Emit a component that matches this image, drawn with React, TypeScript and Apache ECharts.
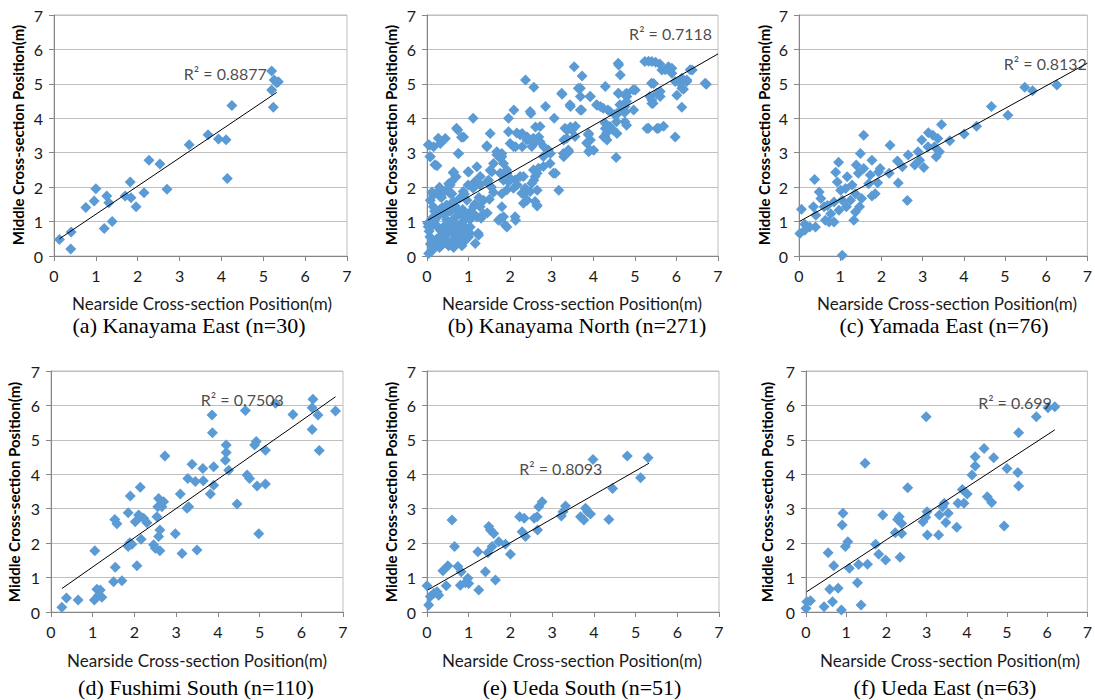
import React, { useEffect, useRef } from "react";
import * as echarts from "echarts";

// ---------- DATA ----------
const kanayamaEast: number[][] = [
  [0.13, 0.48], [0.41, 0.7], [0.4, 0.2], [0.76, 1.41], [0.96, 1.6], [1.0, 1.95], [1.2, 0.8],
  [1.26, 1.74], [1.31, 1.55], [1.39, 1.0], [1.7, 1.74], [1.82, 2.15], [1.84, 1.69], [1.96, 1.43],
  [2.15, 1.84], [2.27, 2.78], [2.53, 2.67], [2.7, 1.94], [3.23, 3.23], [3.68, 3.52], [3.93, 3.4],
  [4.11, 3.38], [4.14, 2.25], [4.25, 4.37], [5.2, 5.37], [5.26, 5.11], [5.32, 5.03], [5.2, 4.82],
  [5.24, 4.32], [5.36, 5.06],
];

const kanayamaNorth: number[][] = [
  [6.72, 4.99], [6.38, 5.4], [6.25, 5.11], [6.17, 4.84], [6.13, 4.32], [6.01, 4.67], [6.09, 5.01],
  [5.97, 3.46], [5.89, 5.45], [5.81, 5.5], [5.65, 5.4], [5.89, 5.31], [5.61, 4.63], [5.69, 3.77],
  [5.53, 3.7], [5.29, 3.7], [5.24, 5.65], [5.33, 5.66], [5.41, 5.65], [5.5, 5.63], [5.6, 5.58],
  [5.45, 5.01], [5.41, 4.53], [5.41, 4.43], [5.53, 4.72], [5.01, 4.82], [4.97, 4.24], [4.81, 4.63],
  [4.77, 4.19], [4.8, 3.8], [4.57, 4.14], [4.61, 4.72], [4.61, 5.55], [4.65, 5.26], [4.57, 3.56],
  [4.55, 2.86], [4.29, 4.92], [4.35, 4.24], [4.25, 3.46], [4.33, 3.37], [4.29, 3.7], [4.17, 4.34],
  [4.09, 4.38], [3.93, 4.63], [3.89, 3.56], [3.93, 3.37], [4.01, 3.07], [3.89, 3.03], [3.69, 4.63],
  [3.69, 4.87], [3.73, 5.23], [3.54, 5.5], [3.69, 4.24], [3.57, 3.77], [3.45, 4.34], [3.45, 3.75],
  [3.37, 3.66], [3.41, 3.03], [3.29, 2.88], [3.29, 3.37], [3.25, 4.7], [3.06, 4.0], [3.09, 2.4],
  [3.17, 1.91], [2.97, 2.98], [2.85, 4.34], [2.81, 3.17], [2.69, 3.46], [2.61, 3.75], [2.57, 4.9],
  [2.37, 5.11], [2.5, 4.14], [2.5, 3.37], [2.41, 3.46], [2.29, 3.56], [2.09, 4.24], [1.96, 4.0],
  [1.96, 3.61], [2.0, 3.27], [2.13, 3.17], [2.29, 3.17], [2.57, 3.27], [2.65, 2.4], [2.65, 1.91],
  [2.65, 1.45], [2.57, 2.2], [2.33, 1.81], [2.41, 1.62], [2.17, 2.06], [2.13, 1.04], [1.92, 0.84],
  [1.8, 1.81], [1.8, 1.43], [1.72, 1.04], [1.84, 2.2], [1.92, 2.4], [1.8, 2.98], [1.68, 3.03],
  [1.52, 3.56], [1.44, 3.17], [1.6, 2.69], [1.52, 2.49], [1.48, 2.2], [1.28, 2.06], [1.2, 2.59],
  [1.11, 4.0], [1.0, 2.44], [0.88, 3.46], [0.74, 3.66], [0.76, 2.98], [0.64, 2.44], [0.44, 3.41],
  [0.32, 3.27], [0.16, 3.17], [0.06, 3.22], [0.08, 2.88], [0.24, 2.62], [0.32, 1.72], [0.12, 1.86],
  [0.08, 1.62], [1.24, 0.6], [1.16, 0.36], [0.88, 0.65], [0.8, 0.46], [0.04, 0.07], [1.04, 0.84],
  [1.36, 1.23], [1.2, 1.13], [0.88, 1.13], [0.96, 1.62], [1.12, 1.43], [1.36, 1.62], [0.52, 2.1],
  [0.6, 1.81], [0.56, 2.06],
  [3.24, 4.73], [3.64, 4.87], [3.92, 4.63], [4.6, 4.73], [4.8, 4.73], [3.44, 4.39], [3.72, 4.24],
  [4.08, 4.39], [4.24, 4.29], [4.4, 4.2], [4.6, 4.15], [4.76, 4.34], [2.48, 4.2], [2.24, 3.52],
  [2.4, 3.37], [2.56, 3.42], [2.72, 3.32], [2.52, 3.18], [2.08, 3.18], [3.32, 3.71], [3.48, 3.66],
  [3.56, 3.47], [3.36, 3.42], [3.88, 3.52], [3.84, 3.28], [3.92, 3.08], [4.28, 3.47], [4.4, 3.76],
  [4.48, 3.66], [4.76, 3.9], [4.76, 4.2], [4.56, 3.9], [3.28, 2.98], [3.4, 3.08], [2.92, 3.08],
  [2.8, 2.89], [2.96, 2.69], [3.04, 2.4], [2.8, 2.6], [1.8, 2.89], [1.76, 2.4], [1.92, 2.5],
  [2.56, 2.5], [2.6, 2.31], [2.52, 2.11], [2.32, 2.31], [2.12, 2.21], [1.96, 2.16], [1.92, 1.92],
  [2.08, 1.97], [2.28, 1.82], [2.48, 1.87], [2.6, 1.58], [2.4, 1.63], [2.32, 1.53], [2.64, 1.48],
  [1.84, 1.14], [2.12, 1.14],
  [5.73, 5.41], [6.33, 5.41], [6.69, 5.02], [4.6, 5.6], [5.4, 5.02], [5.36, 4.63], [5.44, 4.44],
  [5.61, 4.78], [5.97, 5.07], [6.13, 5.16], [6.25, 5.07], [6.13, 4.87], [4.96, 4.83], [4.76, 4.68],
  [4.8, 4.49], [4.64, 4.39], [5.33, 3.71], [5.57, 3.71], [4.52, 4.1], [4.72, 4.2], [4.28, 3.86],
  [4.32, 3.57],
  [0.03, 3.23], [0.27, 3.42], [0.07, 2.89], [0.19, 2.65], [0.71, 3.71], [0.83, 3.45], [0.75, 2.98],
  [0.63, 2.42], [0.99, 2.45], [1.15, 2.16], [0.99, 2.06], [1.44, 3.2], [1.68, 2.94], [1.84, 2.69],
  [2.16, 3.57], [2.72, 3.76], [2.68, 2.55], [2.24, 2.31], [2.0, 2.26], [2.36, 1.97], [1.76, 2.84],
  [1.56, 2.45], [1.44, 2.16], [1.28, 2.31], [1.11, 1.97], [0.87, 1.87], [0.59, 2.16], [0.55, 1.82],
  [0.39, 1.87], [0.15, 1.77], [1.76, 1.09], [1.88, 0.9], [1.28, 1.43], [1.11, 1.24], [1.03, 1.05],
  [0.83, 1.19], [0.71, 1.34], [0.91, 0.85], [1.03, 0.66], [1.23, 0.66], [0.83, 0.51], [0.63, 0.66],
  [0.51, 0.32], [0.31, 0.47], [0.15, 0.27], [0.03, 0.85], [0.07, 0.56], [0.19, 1.05], [0.31, 0.76],
  [0.47, 1.05], [0.47, 1.48], [0.31, 1.34], [0.15, 1.43], [0.63, 1.58], [0.79, 1.68],
  [0.02, 0.95], [0.05, 0.72], [0.1, 0.85], [0.12, 1.1], [0.14, 0.4], [0.18, 1.3], [0.2, 0.3],
  [0.22, 0.9], [0.24, 0.5], [0.26, 1.15], [0.3, 0.25], [0.34, 0.6], [0.36, 1.4], [0.38, 0.35],
  [0.4, 0.85], [0.42, 1.2], [0.44, 0.45], [0.46, 0.7], [0.5, 0.95], [0.52, 0.3], [0.56, 1.3],
  [0.58, 0.8], [0.6, 0.45], [0.62, 1.05], [0.64, 0.25], [0.66, 0.7], [0.68, 1.45], [0.7, 0.55],
  [0.72, 0.9], [0.74, 1.2], [0.76, 0.4], [0.78, 0.75], [0.82, 0.95], [0.84, 0.3], [0.86, 1.35],
  [0.9, 1.8], [0.92, 0.45], [0.94, 1.1], [0.96, 0.7], [1.0, 0.55], [1.02, 1.25], [0.25, 1.85],
  [0.3, 2.0], [0.35, 1.7], [0.45, 1.9], [0.7, 2.3], [0.08, 0.35], [0.12, 0.15], [0.28, 0.45],
  [0.4, 0.55], [0.5, 0.65], [1.15, 1.5], [1.25, 1.7], [1.3, 1.1], [1.45, 1.25], [1.5, 1.65],
  [1.55, 2.0], [1.6, 1.85],
];

const yamadaEast: number[][] = [
  [6.26, 4.97], [5.67, 4.8], [5.48, 4.9], [5.07, 4.09], [4.67, 4.34], [4.31, 3.77], [4.01, 3.54],
  [3.66, 3.35], [3.46, 3.82], [3.41, 3.03], [3.37, 3.41], [3.29, 3.17], [3.33, 2.88], [3.25, 3.51],
  [3.14, 3.58], [3.13, 3.17], [2.98, 3.37], [3.03, 2.57], [2.93, 2.78], [2.89, 3.03], [2.81, 2.64],
  [2.63, 1.61], [2.65, 2.93], [2.51, 2.59], [2.39, 2.76], [2.41, 2.12], [2.21, 3.22], [2.19, 2.4],
  [1.93, 2.44], [1.91, 2.13], [1.77, 2.78], [1.85, 1.81], [1.77, 1.74], [1.69, 2.1], [1.57, 3.51],
  [1.57, 2.54], [1.52, 1.67], [1.49, 2.98], [1.39, 2.64], [1.44, 2.4], [1.47, 1.43], [1.33, 1.04],
  [1.37, 1.28], [1.17, 2.3], [1.15, 1.43], [1.05, 0.02], [0.96, 2.72], [0.89, 2.43], [0.93, 2.15],
  [1.01, 1.91], [1.05, 1.62], [0.97, 1.33], [0.85, 0.99], [0.77, 1.23], [0.61, 1.43], [0.49, 1.86],
  [0.53, 1.67], [0.64, 1.04], [0.38, 2.22], [0.35, 1.43], [0.4, 0.84], [0.26, 0.84], [0.14, 0.92],
  [0.06, 1.36], [0.02, 0.65], [0.14, 0.75], [0.73, 0.99], [0.41, 1.18], [1.13, 1.96], [1.29, 2.06],
  [1.37, 1.81], [1.25, 1.62], [0.85, 1.57], [0.69, 1.47], [1.73, 2.35], [1.97, 2.54],
];

const fushimiSouth: number[][] = [
  [0.26, 0.14], [0.37, 0.41], [0.65, 0.35], [1.05, 1.78], [1.04, 0.35], [1.1, 0.66], [1.14, 0.49],
  [1.22, 0.43], [1.18, 0.64], [1.5, 0.88], [1.54, 1.3], [1.53, 2.69], [1.58, 2.56], [1.7, 0.91],
  [1.85, 2.88], [1.9, 3.37], [1.85, 1.9], [1.89, 2.01], [1.94, 1.97], [2.02, 2.62], [2.06, 1.34],
  [2.1, 2.82], [2.14, 3.62], [2.16, 2.11], [2.14, 2.77], [2.22, 2.72], [2.3, 2.59], [2.46, 1.95],
  [2.5, 1.85], [2.54, 2.77], [2.56, 3.06], [2.58, 3.3], [2.61, 2.38], [2.58, 2.19], [2.61, 1.78],
  [2.66, 3.06], [2.7, 3.2], [2.73, 4.53], [2.98, 2.27], [3.1, 3.43], [3.14, 1.7], [3.26, 3.01],
  [3.3, 3.06], [3.28, 3.88], [3.38, 4.29], [3.46, 3.79], [3.5, 1.8], [3.64, 4.17], [3.65, 3.81],
  [3.82, 3.43], [3.86, 5.72], [3.87, 5.21], [3.9, 4.22], [3.9, 3.68], [4.18, 4.41], [4.2, 4.63],
  [4.2, 4.85], [4.26, 4.12], [4.46, 3.14], [4.66, 5.85], [4.7, 3.98], [4.76, 3.88], [4.88, 4.85],
  [4.92, 4.95], [4.98, 2.27], [4.94, 3.66], [5.14, 3.72], [5.14, 4.7], [5.38, 6.06], [5.8, 5.74],
  [6.26, 5.3], [6.28, 6.18], [6.26, 5.93], [6.4, 5.72], [6.43, 4.69], [6.82, 5.84],
];

const uedaSouth: number[][] = [
  [0.0, 0.76], [0.04, 0.2], [0.08, 0.45], [0.16, 0.54], [0.24, 0.59], [0.28, 0.49], [0.38, 1.2],
  [0.46, 0.76], [0.5, 1.34], [0.6, 2.67], [0.66, 1.9], [0.74, 1.32], [0.82, 1.17], [0.8, 0.78],
  [0.92, 0.85], [0.98, 0.98], [1.0, 0.83], [1.22, 1.75], [1.24, 0.64], [1.4, 1.17], [1.46, 1.72],
  [1.48, 2.48], [1.52, 2.38], [1.56, 1.9], [1.6, 2.28], [1.64, 0.93], [1.72, 2.04], [1.88, 1.97],
  [2.0, 1.68], [2.22, 2.77], [2.28, 2.33], [2.33, 2.72], [2.36, 2.19], [2.57, 2.72], [2.64, 2.77],
  [2.65, 2.38], [2.68, 3.06], [2.76, 3.2], [3.22, 2.79], [3.32, 3.08], [3.26, 2.91], [3.68, 2.77],
  [3.76, 2.67], [3.8, 3.01], [3.92, 2.85], [3.85, 2.91], [3.98, 4.43], [4.36, 2.69], [4.45, 3.59],
  [4.8, 4.53], [5.12, 3.9], [5.3, 4.48],
];

const uedaEast: number[][] = [
  [0.0, 0.11], [0.02, 0.3], [0.11, 0.33], [0.45, 0.15], [0.55, 1.72], [0.59, 0.66], [0.66, 0.3],
  [0.69, 1.34], [0.8, 0.69], [0.88, 0.06], [0.92, 2.87], [0.9, 2.53], [0.98, 1.9], [1.04, 2.04],
  [1.08, 1.27], [1.28, 0.85], [1.31, 1.38], [1.37, 0.2], [1.47, 4.32], [1.53, 1.39], [1.73, 1.97],
  [1.81, 1.68], [1.91, 2.82], [1.98, 1.51], [2.22, 2.3], [2.28, 2.69], [2.32, 2.77], [2.38, 2.28],
  [2.38, 2.57], [2.34, 1.59], [2.53, 3.61], [2.91, 2.62], [2.99, 5.67], [3.01, 2.91], [3.02, 2.24],
  [2.98, 2.75], [3.3, 2.24], [3.32, 2.82], [3.4, 3.06], [3.44, 3.16], [3.48, 2.6], [3.54, 2.87],
  [3.75, 2.46], [3.78, 3.16], [3.89, 3.56], [3.93, 3.16], [4.01, 3.43], [4.13, 3.98], [4.21, 4.51],
  [4.21, 4.24], [4.43, 4.75], [4.51, 3.35], [4.62, 3.18], [4.67, 4.48], [4.93, 2.5], [5.0, 4.17],
  [5.27, 4.05], [5.29, 3.66], [5.29, 5.21], [5.73, 5.67], [6.02, 5.93], [6.19, 5.96],
];

// Trendline end points
const trendA: number[][] = [[0.13, 0.5], [5.32, 4.75]];
const trendB: number[][] = [[0.02, 1.04], [7.0, 5.87]];
const trendC: number[][] = [[0.02, 1.01], [7.0, 5.6]];
const trendD: number[][] = [[0.26, 0.68], [6.82, 6.25]];
const trendE: number[][] = [[0.02, 0.64], [5.32, 4.32]];
const trendF: number[][] = [[0.02, 0.59], [6.19, 5.29]];

const r2Texts = ["R² = 0.8877", "R² = 0.7118", "R² = 0.8132", "R² = 0.7503", "R² = 0.8093", "R² = 0.699"];
const r2Anchors: number[][] = [[3.09, 5.3], [4.85, 6.47], [4.96, 5.6], [3.58, 6.18], [2.2, 4.17], [4.27, 6.08]];

const captions = [
  "(a) Kanayama East (n=30)",
  "(b) Kanayama North (n=271)",
  "(c) Yamada East (n=76)",
  "(d) Fushimi South (n=110)",
  "(e) Ueda South (n=51)",
  "(f) Ueda East (n=63)",
];
const xTitle = "Nearside Cross-section Position(m)";
const yTitle = "Middle Cross-section Position(m)";
const axisTicks = [0, 1, 2, 3, 4, 5, 6, 7];

const datasets = [kanayamaEast, kanayamaNorth, yamadaEast, fushimiSouth, uedaSouth, uedaEast];
const trends = [trendA, trendB, trendC, trendD, trendE, trendF];

// ---------- LAYOUT ----------
const grids = [
  { left: 54, top: 15, width: 293, height: 241 },
  { left: 427, top: 15, width: 291, height: 241 },
  { left: 799, top: 15, width: 292, height: 241 },
  { left: 51, top: 371, width: 292, height: 241 },
  { left: 427, top: 371, width: 292, height: 241 },
  { left: 806, top: 371, width: 287, height: 241 },
];
const xTitlePos = [[202, 303], [572, 303], [947, 303], [197, 660], [572, 660], [950, 660]];
const captionPos = [[189, 325], [577, 325], [944, 325], [196, 687], [582, 687], [945, 687]];
const yTitlePos = [[18, 135], [391, 135], [764, 135], [14, 492], [391, 492], [767, 492]];

const TICK_FONT = "Lato, 'Open Sans', sans-serif";
const AXIS_COLOR = "#868686";
const GRID_COLOR = "#bfbfbf";
const TEXT_COLOR = "#1a1a1a";
const MARKER = "#5B9BD5";

export default function App() {
  const ref = useRef<HTMLDivElement>(null);
  useEffect(() => {
    if (!ref.current) return;
    const chart = echarts.init(ref.current, undefined, { renderer: "svg" });
    const tickMin = axisTicks[0];
    const tickMax = axisTicks[axisTicks.length - 1];
    const axisCommon = (i: number) => ({
      gridIndex: i,
      type: "value" as const,
      min: tickMin,
      max: tickMax,
      interval: 1,
      axisLine: { show: true, onZero: false, lineStyle: { color: AXIS_COLOR, width: 1 } },
      axisTick: { show: true, length: 5, lineStyle: { color: AXIS_COLOR } },
      axisLabel: { fontFamily: TICK_FONT, fontSize: 16, color: TEXT_COLOR },
    });
    const xAxis = grids.map((_, i) => ({
      ...axisCommon(i),
      axisLabel: { ...axisCommon(i).axisLabel, margin: 11 },
      splitLine: { show: false },
    }));
    const yAxis = grids.map((_, i) => ({
      ...axisCommon(i),
      axisLabel: { ...axisCommon(i).axisLabel, margin: 11 },
      splitLine: { show: true, lineStyle: { color: GRID_COLOR, width: 1 } },
    }));
    const series: any[] = [];
    datasets.forEach((d, i) => {
      series.push({
        type: "scatter",
        xAxisIndex: i,
        yAxisIndex: i,
        data: d,
        symbol: "diamond",
        symbolSize: 11,
        itemStyle: { color: MARKER, opacity: 1 },
        z: 2,
      });
      series.push({
        type: "line",
        xAxisIndex: i,
        yAxisIndex: i,
        data: trends[i],
        symbol: "none",
        lineStyle: { color: "#000", width: 1 },
        z: 3,
      });
      series.push({
        type: "scatter",
        xAxisIndex: i,
        yAxisIndex: i,
        data: [r2Anchors[i]],
        symbolSize: 1,
        itemStyle: { color: "rgba(0,0,0,0)" },
        label: {
          show: true,
          position: "right",
          distance: 0,
          formatter: r2Texts[i],
          fontFamily: TICK_FONT,
          fontSize: 16,
          color: TEXT_COLOR,
        },
        z: 4,
      });
    });
    const graphic: any[] = [];
    grids.forEach((_, i) => {
      graphic.push({
        type: "text",
        x: xTitlePos[i][0],
        y: xTitlePos[i][1],
        style: {
          text: xTitle,
          fontFamily: TICK_FONT,
          fontSize: 17,
          fill: TEXT_COLOR,
          align: "center",
          verticalAlign: "middle",
        },
      });
      graphic.push({
        type: "text",
        x: captionPos[i][0],
        y: captionPos[i][1],
        style: {
          text: captions[i],
          fontFamily: "'Liberation Serif', 'Times New Roman', serif",
          fontSize: 22,
          fill: "#000",
          align: "center",
          verticalAlign: "middle",
        },
      });
      graphic.push({
        type: "text",
        x: yTitlePos[i][0],
        y: yTitlePos[i][1],
        rotation: Math.PI / 2,
        style: {
          text: yTitle,
          fontFamily: TICK_FONT,
          fontSize: 15,
          fontWeight: "bold",
          fill: "#000",
          align: "center",
          verticalAlign: "middle",
        },
      });
    });
    chart.setOption({
      animation: false,
      backgroundColor: "#fff",
      grid: grids.map((g) => ({
        ...g,
        show: true,
        borderColor: GRID_COLOR,
        borderWidth: 1,
        backgroundColor: "transparent",
        containLabel: false,
      })),
      xAxis,
      yAxis,
      series,
      graphic,
    });
    return () => chart.dispose();
  }, []);
  return (
    <div
      ref={ref}
      style={{ position: "fixed", left: 0, top: 0, width: 1095, height: 700, background: "#fff" }}
    />
  );
}
